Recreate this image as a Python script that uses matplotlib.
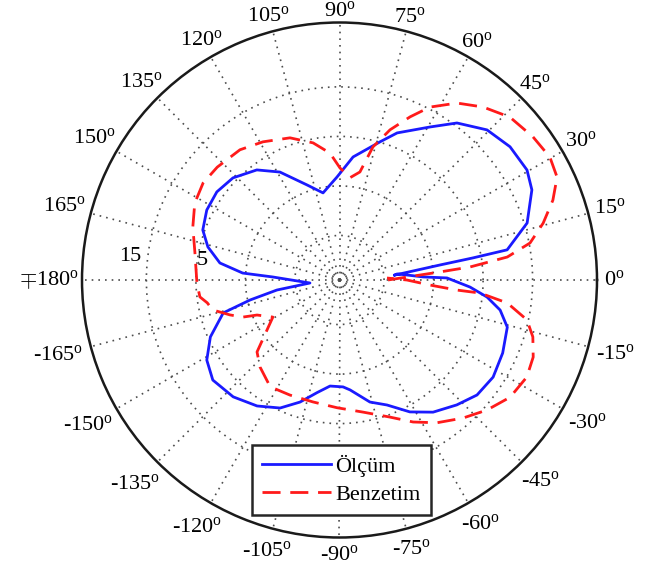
import numpy as np
import matplotlib
matplotlib.use("Agg")
import matplotlib.pyplot as plt

plt.rcParams['font.family'] = ['Liberation Serif', 'DejaVu Serif']
plt.rcParams['mathtext.fontset'] = 'custom'
plt.rcParams['mathtext.rm'] = 'Liberation Serif'
plt.rcParams['mathtext.it'] = 'Liberation Serif:italic'

# ---- data (angle in degrees, value in dB-like radial units) ----
olcum_theta = [5.1, 8.5, 9.4, 10.2, 16.9, 25.1, 30.4, 38.0, 45.5, 53.2, 59.4, 68.6, 73.6, 83.7,
               91.4, 100.7, 108.9, 118.9, 126.9, 136.2, 144.3, 152.2, 159.9, 165.9, 171.9,
               175.9, 177.4, 185.8, 189.1, 192.6, 195.8, 203.8, 211.1, 218.3, 227.7, 236.8,
               245.1, 252.1, 258.7, 264.9, 271.9, 275.5, 284.0, 290.8, 298.1, 305.3, 313.2,
               320.1, 327.7, 335.9, 344.3, 349.4, 353.4, 356.9, 361.1, 362.1, 364.2, 366.0, 365.1]
olcum_r = [-12.8, -3.5, 3.3, 10.4, 15.6, 18.9, 19.9, 19.7, 18.5, 15.6, 11.9, 7.9, 5.1, 1.0,
           -3.2, -6.1, -3.7, 0.9, 3.8, 5.8, 6.5, 6.3, 5.4, 3.4, 0.4,
           -4.4, -10.5, -18.0, -11.2, -5.5, 0.4, 4.5, 7.3, 8.6, 7.9, 6.4,
           4.5, 1.9, -0.8, -2.5, -2.4, -1.7, 1.4, 3.0, 6.2, 8.7, 10.6,
           12.2, 12.7, 12.1, 11.2, 9.0, 6.0, 2.4, -2.3, -7.1, -10.3, -12.3, -12.8]

benzetim_theta = [0.0, 4.6, 5.7, 7.8, 11.0, 15.6, 20.5, 25.3, 30.3, 36.5, 43.7, 50.3, 56.4,
                  62.4, 66.6, 71.4, 75.9, 79.3, 84.0, 89.7, 94.3, 100.9, 109.2, 119.0, 127.4,
                  137.3, 144.6, 152.0, 160.1, 169.4, 181.2, 186.9, 189.8, 193.3, 197.7, 201.0,
                  203.0, 209.1, 221.1, 227.6, 237.0, 246.7, 257.7, 268.9, 280.1, 290.2, 297.4,
                  304.3, 311.8, 318.6, 325.5, 332.6, 338.3, 343.6, 348.0, 352.2, 354.7, 355.1,
                  356.8, 360.0, 362.4]
benzetim_r = [-14.2, -3.6, 2.5, 10.2, 15.2, 18.7, 22.0, 24.6, 25.2, 24.6, 23.6, 21.4, 18.9,
              15.4, 11.9, 8.0, 3.7, -1.8, -3.2, -1.4, 1.7, 4.2, 6.4, 7.9, 9.1,
              9.6, 9.8, 9.1, 7.5, 5.7, 4.8, 4.4, 3.1, 2.3, -0.8, -3.1,
              -5.9, -8.6, -1.9, -0.2, 1.7, 1.3, 1.2, 1.8, 3.1, 5.5, 8.3,
              10.9, 13.4, 15.7, 17.8, 18.6, 18.1, 16.7, 14.7, 10.2, 4.5, -0.2,
              -5.7, -10.4, -14.4]

r_min, r_max = -24, 28
ring_values = [-15, -5, 5, 15]
ring_labels = {15: (173.5, 18.6), 5: (172.1, 4.0)}
angle_ticks = list(range(0, 360, 15))
angle_names = ['0', '15', '30', '45', '60', '75', '90', '105', '120', '135', '150', '165',
               r'$\mp$180', '-165', '-150', '-135', '-120', '-105', '-90', '-75', '-60',
               '-45', '-30', '-15']
legend_names = ['Ölçüm', 'Benzetim']

W, H = 656, 569
fig = plt.figure(figsize=(W / 100, H / 100), dpi=100)
cx, cy, R = 339.5, 280.0, 257.5
ax = fig.add_axes([(cx - R) / W, (H - cy - R) / H, 2 * R / W, 2 * R / H], projection='polar')

ax.plot(np.deg2rad(olcum_theta), olcum_r, color='#1a1aff', lw=2.0, label=legend_names[0])
ax.plot(np.deg2rad(benzetim_theta), benzetim_r, color='#ff1a1a', lw=2.0,
        dashes=(6.5, 3.5), label=legend_names[1])

ax.set_ylim(r_min, r_max)
ax.set_yticks(ring_values)
ax.set_yticklabels([])
ax.set_xticks(np.deg2rad(angle_ticks))
ax.set_xticklabels([])
ax.grid(True, color='0.3', linestyle=(0, (1, 3)), lw=1.2)
ax.tick_params(axis='x', direction='in', length=7, width=1.3, color='0.1')
ax.spines['polar'].set_linewidth(1.8)
ax.spines['polar'].set_color('0.1')

for a, name in zip(angle_ticks, angle_names):
    n = len(name.replace(r'$\mp$', '~'))
    rad = np.deg2rad(a)
    frac = 1.045 + 0.021 * n * abs(np.cos(rad)) + 0.022 * max(0.0, -np.sin(rad))
    ax.text(rad, r_min + (r_max - r_min) * frac, name + r'$^{\rm o}$',
            ha='center', va='center', fontsize=16, clip_on=False)

for v, (th, rv) in ring_labels.items():
    ax.text(np.deg2rad(th), rv, str(v), ha='center', va='center', fontsize=16)

leg = ax.legend(loc='lower left', bbox_to_anchor=(252 / W, (H - 515) / H),
                bbox_transform=fig.transFigure, fontsize=16, fancybox=False,
                framealpha=1, edgecolor='0.15', handlelength=3.1, handletextpad=0.2,
                labelspacing=0.35, borderpad=0.45, borderaxespad=0)
leg.get_frame().set_linewidth(1.8)

fig.savefig('out.png', dpi=100)
